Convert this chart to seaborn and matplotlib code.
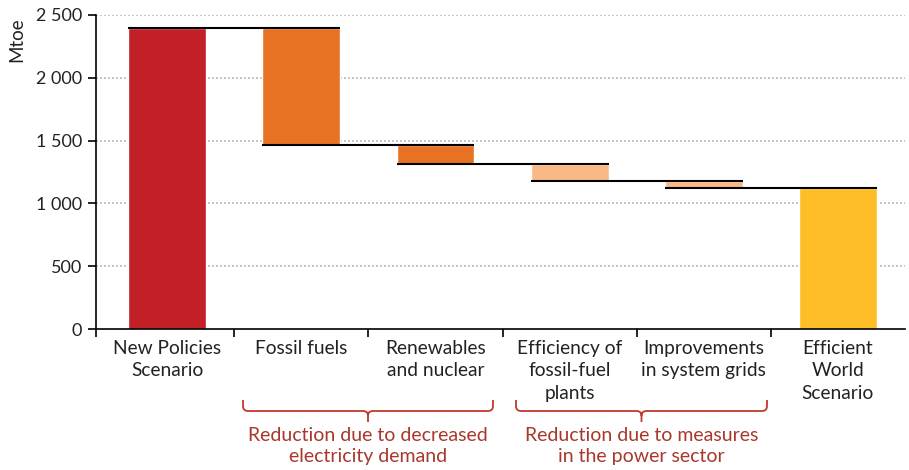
import numpy as np
import pandas as pd
import matplotlib
matplotlib.use("Agg")
import matplotlib.pyplot as plt
import seaborn as sns
from matplotlib.path import Path
from matplotlib.patches import PathPatch

categories = ["New Policies\nScenario", "Fossil fuels", "Renewables\nand nuclear",
              "Efficiency of\nfossil-fuel\nplants", "Improvements\nin system grids",
              "Efficient\nWorld\nScenario"]
bar_top = [2400, 2400, 1465, 1315, 1180, 1125]
bar_bottom = [0, 1465, 1315, 1180, 1125, 0]
bar_colors = ["#C21F26", "#E87224", "#E87224", "#F9B986", "#F9B986", "#FDBE28"]
yticks = [0, 500, 1000, 1500, 2000, 2500]
ytick_labels = ["0", "500", "1 000", "1 500", "2 000", "2 500"]
group_labels = ["Reduction due to decreased\nelectricity demand",
                "Reduction due to measures\nin the power sector"]

sns.set_theme(style="white")
plt.rcParams["font.family"] = ["Lato", "DejaVu Sans"]

W, H = 909, 470
fig = plt.figure(figsize=(W / 100, H / 100), dpi=100)
ax = fig.add_axes([96 / W, 1 - 329 / H, (905 - 96) / W, (329 - 15) / H])

df = pd.DataFrame({"cat": categories,
                   "height": np.array(bar_top) - np.array(bar_bottom),
                   "bottom": bar_bottom})
sns.barplot(data=df, x="cat", y="height", hue="cat", palette=bar_colors,
            width=0.58, legend=False, ax=ax, saturation=1, zorder=2)
# float the bars to their bottoms (waterfall)
for patch, b in zip(ax.patches, df["bottom"]):
    patch.set_y(b)

# connectors
xs = np.arange(len(categories))
hw = 0.29
conn_vals = [bar_top[0], bar_bottom[1], bar_bottom[2], bar_bottom[3], bar_bottom[4]]
for i, v in enumerate(conn_vals):
    ax.hlines(v, xs[i] - hw, xs[i + 1] + hw, color="black", lw=1.5, zorder=3)

ax.set_xlim(-0.53, 5.5)
ax.set_ylim(0, 2500)
for yv in yticks[1:]:
    ax.axhline(yv, color="#BBBBBB", lw=1.2, ls=(0, (1.2, 1.2)), zorder=0.5)

ax.set_yticks(yticks)
ax.set_yticklabels(ytick_labels, fontsize=13, color="#222222")
ax.set_xticks(xs)
ax.set_xticklabels(categories, fontsize=13.8, color="#222222", linespacing=1.38)
ax.set_xticks([-0.53, 0.5, 1.5, 2.5, 3.5, 4.5], minor=True)
ax.tick_params(axis="x", which="major", length=0, pad=8)
ax.tick_params(axis="x", which="minor", length=6, width=1.2, direction="out", color="black", bottom=True)
ax.tick_params(axis="y", length=6, width=1.2, direction="out", color="black", left=True, pad=4)
ax.set_xlabel("")
ax.set_ylabel("")
for s in ["top", "right"]:
    ax.spines[s].set_visible(False)
for s in ["left", "bottom"]:
    ax.spines[s].set_color("black")
    ax.spines[s].set_linewidth(1.2)

fig.text(17 / W, 1 - 40 / H, "Mtoe", rotation=90, ha="center", va="center",
         fontsize=13.5, color="#222222")

# brackets
red = "#C0392B"
def bracket(x0, x1, ytop=400, ybar=411, ytip=422):
    mid = (x0 + x1) / 2
    r = 5
    pts = [(x0, ytop), (x0, ybar - r), (x0, ybar), (x0 + r, ybar),
           (mid - r, ybar), (mid, ybar), (mid, ybar + r), (mid, ytip),
           (mid, ybar + r), (mid, ybar), (mid + r, ybar),
           (x1 - r, ybar), (x1, ybar), (x1, ybar - r), (x1, ytop)]
    codes = [Path.MOVETO, Path.LINETO, Path.CURVE3, Path.CURVE3,
             Path.LINETO, Path.CURVE3, Path.CURVE3, Path.LINETO,
             Path.MOVETO, Path.CURVE3, Path.CURVE3,
             Path.LINETO, Path.CURVE3, Path.CURVE3, Path.LINETO]
    pts = [(px / W, 1 - py / H) for px, py in pts]
    fig.patches.append(PathPatch(Path(pts, codes), transform=fig.transFigure,
                                 fill=False, ec=red, lw=1.3))
    return mid

m1 = bracket(243, 493)
m2 = bracket(516, 767)
for m, lab in zip([m1, m2], group_labels):
    fig.text(m / W, 1 - 427 / H, lab, ha="center", va="top", fontsize=14,
             color="#A8372C", linespacing=1.3)

fig.savefig("out.png", dpi=100)
